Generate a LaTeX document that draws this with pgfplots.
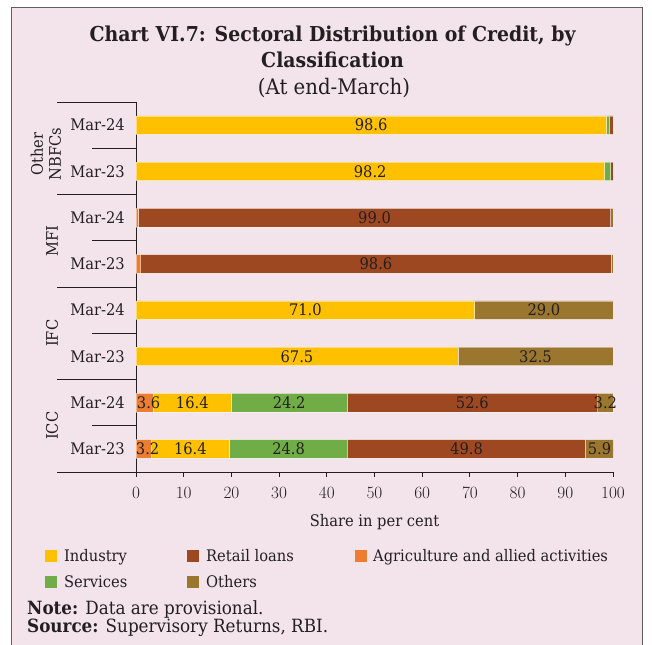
\documentclass[border=0pt]{standalone}
\usepackage{pgfplots}
\pgfplotsset{compat=1.18}
\usepackage{pgfplotstable}
\usepackage{fontspec}
\setmainfont{DejaVu Serif}[FakeStretch=0.92]

\definecolor{bgpink}{RGB}{242,228,234}
\definecolor{framegray}{RGB}{95,95,95}
\definecolor{txt}{RGB}{35,31,32}
\definecolor{cInd}{RGB}{255,192,0}
\definecolor{cRet}{RGB}{158,72,34}
\definecolor{cAgr}{RGB}{237,125,49}
\definecolor{cSer}{RGB}{112,173,71}
\definecolor{cOth}{RGB}{155,118,46}

\newcommand\lab{\fontsize{16}{18}\selectfont}

% rows: 0 ICC Mar-23, 1 ICC Mar-24, 2 IFC Mar-23, 3 IFC Mar-24,
%       4 MFI Mar-23, 5 MFI Mar-24, 6 Other NBFCs Mar-23, 7 Other NBFCs Mar-24
\pgfplotstableread{
pos val  lab
0   3.2  3.2
1   3.6  3.6
2   0    {}
3   0    {}
4   1.0  {}
5   0.5  {}
6   0    {}
7   0    {}
}\agri
\pgfplotstableread{
pos val  lab
0   16.4 16.4
1   16.4 16.4
2   67.5 67.5
3   71.0 71.0
4   0    {}
5   0    {}
6   98.2 98.2
7   98.6 98.6
}\industry
\pgfplotstableread{
pos val  lab
0   24.8 24.8
1   24.2 24.2
2   0    {}
3   0    {}
4   0    {}
5   0    {}
6   1.3  {}
7   0.6  {}
}\services
\pgfplotstableread{
pos val  lab
0   49.8 49.8
1   52.6 52.6
2   0    {}
3   0    {}
4   98.6 98.6
5   99.0 99.0
6   0.5  {}
7   0.8  {}
}\retail
\pgfplotstableread{
pos val  lab
0   5.9  5.9
1   3.2  3.2
2   32.5 32.5
3   29.0 29.0
4   0.4  {}
5   0.5  {}
6   0    {}
7   0    {}
}\others

\begin{document}
\begin{tikzpicture}[x=1bp,y=1bp]
% canvas and frame
\fill[white] (0,0) rectangle (652,645);
\path[use as bounding box] (0,0) rectangle (652,645);
\filldraw[fill=bgpink, draw=framegray, line width=1bp] (11.5,637.5) rectangle (642.5,-5);

% title block
\node[anchor=base, text=txt, font=\fontsize{20.6}{24}\selectfont\bfseries] at (332.5,603) {Chart VI.7: Sectoral Distribution of Credit, by};
\node[anchor=base, text=txt, font=\fontsize{20.6}{24}\selectfont\bfseries] at (332.5,577) {Classification};
\node[anchor=base, text=txt, font=\fontsize{21.5}{24}\selectfont] at (334,550) {(At end-March)};

\begin{axis}[
  at={(136bp,173bp)}, anchor=south west,
  scale only axis, width=477bp, height=370bp,
  xmin=0, xmax=100, ymin=-0.5, ymax=7.5,
  enlargelimits=false,
  axis x line*=bottom, axis y line*=left,
  axis line style={draw=txt, line width=0.9bp},
  xtick={0,10,...,100},
  tick align=outside, major tick length=5bp,
  xtick style={draw=txt, line width=0.9bp},
  ytick={0,...,7},
  yticklabels={Mar-23,Mar-24,Mar-23,Mar-24,Mar-23,Mar-24,Mar-23,Mar-24},
  ytick style={draw=none},
  tick label style={font=\lab, text=txt},
  yticklabel style={inner sep=0pt, xshift=-6bp},
  xticklabel style={inner sep=0pt, yshift=-10bp},
  every axis x label/.style={at={(axis description cs:0.5,0)}, anchor=base, yshift=-55bp, font=\lab, text=txt},
  xlabel={Share in per cent},
  xbar stacked, bar width=18.5bp,
  clip=false,
  % segment values written in the middle of each segment
  nodes near coords,
  point meta=explicit symbolic,
  every node near coord/.append style={anchor=center, font=\lab, text=txt, inner sep=0pt},
  every axis plot/.append style={draw=white, draw opacity=0.45, line width=0.6bp},
]
\addplot[fill=cAgr, nodes near coords style={xshift=4bp}] table[x=val, y=pos, meta=lab] {\agri};
\addplot[fill=cInd] table[x=val, y=pos, meta=lab] {\industry};
\addplot[fill=cSer] table[x=val, y=pos, meta=lab] {\services};
\addplot[fill=cRet] table[x=val, y=pos, meta=lab] {\retail};
\addplot[fill=cOth] table[x=val, y=pos, meta=lab] {\others};

% group separators on the category axis
\pgfplotsinvokeforeach{-0.5,1.5,3.5,5.5,7.5}{
  \draw[draw=txt, line width=0.9bp] (axis cs:0,#1) -- ++(-79bp,0bp);
}
\pgfplotsinvokeforeach{0.5,2.5,4.5,6.5}{
  \draw[draw=txt, line width=0.9bp] (axis cs:0,#1) -- ++(-44bp,0bp);
}
% group names
\path (axis cs:0,0.5) ++(-84bp,0bp) node[rotate=90, font=\lab, text=txt] {ICC};
\path (axis cs:0,2.5) ++(-84bp,0bp) node[rotate=90, font=\lab, text=txt] {IFC};
\path (axis cs:0,4.5) ++(-84bp,0bp) node[rotate=90, font=\lab, text=txt] {MFI};
\path (axis cs:0,6.5) ++(-90bp,-6bp) node[rotate=90, font=\lab, text=txt, align=center, inner sep=0pt] {\fontsize{16}{15}\selectfont Other\\NBFCs};
\end{axis}

% legend
\begin{scope}[font=\lab, text=txt]
\fill[cInd] (45,83) rectangle (57,95);
\node[anchor=base west, inner sep=0pt] at (64,83) {Industry};
\fill[cRet] (187,83) rectangle (199,95);
\node[anchor=base west, inner sep=0pt] at (206,83) {Retail loans};
\fill[cAgr] (355,83) rectangle (367,95);
\node[anchor=base west, inner sep=0pt] at (373,83) {Agriculture and allied activities};
\fill[cSer] (45,57) rectangle (57,69);
\node[anchor=base west, inner sep=0pt] at (64,57) {Services};
\fill[cOth] (187,57) rectangle (199,69);
\node[anchor=base west, inner sep=0pt] at (206,57) {Others};
\end{scope}

% notes
\node[anchor=base west, inner sep=0pt, text=txt, font=\fontsize{18.3}{20}\selectfont] at (27,30) {\textbf{Note:} Data are provisional.};
\node[anchor=base west, inner sep=0pt, text=txt, font=\fontsize{18.3}{20}\selectfont] at (27,12) {\textbf{Source:} Supervisory Returns, RBI.};
\end{tikzpicture}
\end{document}
